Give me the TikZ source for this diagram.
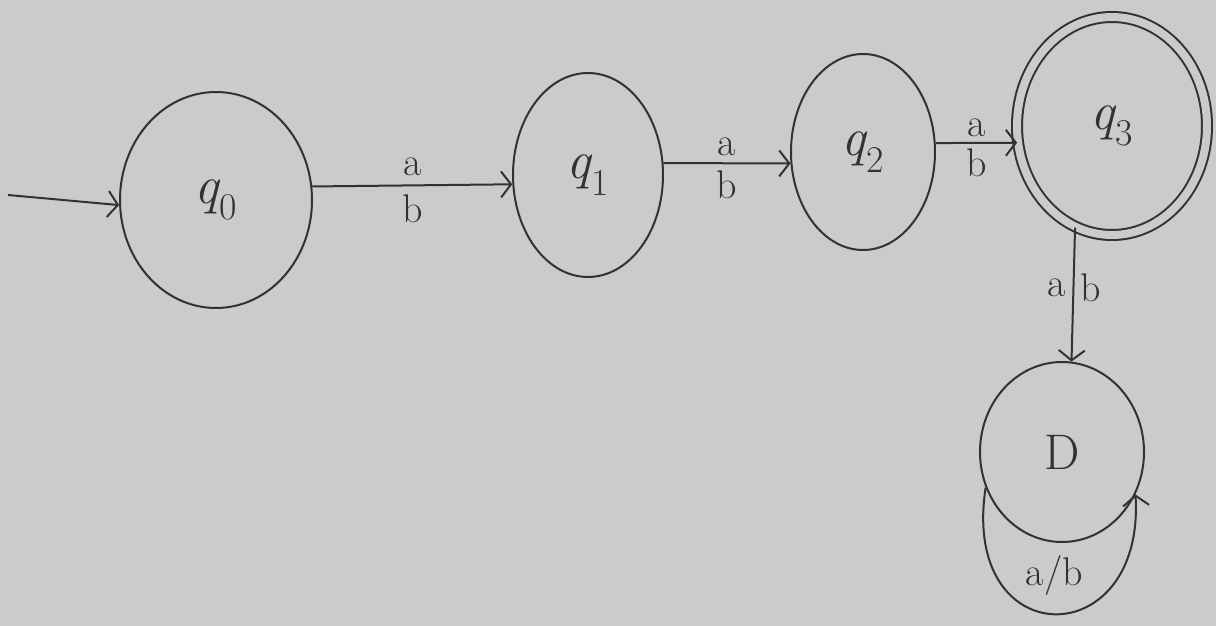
\documentclass[tikz,border=0pt]{standalone}
\usetikzlibrary{arrows.meta,shapes.geometric}
\definecolor{paper}{RGB}{203,203,203}
\definecolor{ink}{RGB}{50,50,50}
\newcommand{\qs}[1]{{\itshape q}\textsubscript{#1}}
\begin{document}
\begin{tikzpicture}[x=1pt,y=-1pt,
  state/.style={ellipse,draw=ink,line width=2pt,inner sep=0pt,text=ink,font=\fontsize{54}{56}\selectfont},
  edge/.style={draw=ink,line width=2pt,-{Straight Barb[length=10pt,width=26pt,line width=2pt]}},
  lbl/.style={text=ink,font=\fontsize{40}{42}\selectfont}]
\fill[paper] (0,0) rectangle (1216,626);
\useasboundingbox (0,0) rectangle (1216,626);
\node[state,minimum width=192pt,minimum height=216pt] (q0) at (216,200) {\qs{0}};
\node[state,minimum width=150pt,minimum height=204pt] (q1) at (588,175) {\qs{1}};
\node[state,minimum width=144pt,minimum height=196pt] (q2) at (863,152) {\qs{2}};
\node[state,minimum width=190pt,minimum height=218pt,double=paper,double distance=8pt] (q3) at (1112,126) {\qs{3}};
\node[state,minimum width=164pt,minimum height=180pt,font=\fontsize{50}{52}\selectfont] (D) at (1062,452) {D};
\coordinate (start) at (8,195);
\draw[edge] (start) -- (q0.183);
\draw[edge] (q0.8) -- node[lbl,above=5pt]{a} node[lbl,below=5pt]{b} (q1.187);
\draw[edge] (q1.9) -- node[lbl,above=3pt]{a} node[lbl,below=3pt]{b} (q2.189);
\draw[edge] (q2.7) -- node[lbl,above=2pt]{a} node[lbl,below=2pt]{b} (q3.190);
\draw[edge] (q3.250) -- node[lbl,left=3pt,pos=0.45]{a} node[lbl,right=3pt,pos=0.45]{b} (D.84);
\draw[edge] (D.205) .. controls (960,655) and (1145,655) .. node[lbl,above=14pt,pos=0.5]{a/b} (D.330);
\end{tikzpicture}
\end{document}
